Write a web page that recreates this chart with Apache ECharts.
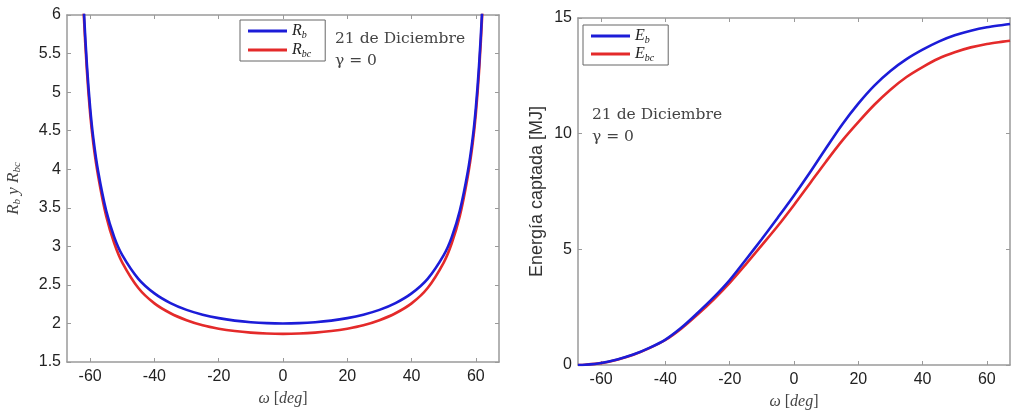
<!DOCTYPE html>
<html>
<head>
<meta charset="utf-8">
<script src="https://cdn.jsdelivr.net/npm/echarts@6/dist/echarts.min.js"></script>
<style>
html,body{margin:0;padding:0;background:#fff;}
#chart{width:1011px;height:416px;}
</style>
</head>
<body>
<div id="chart"></div>
<script>
// ---- data ----
const xTicks = [-60, -40, -20, 0, 20, 40, 60];
const omegaR = [-62.6,-62,-61,-60,-59,-57.5,-55,-52.5,-50,-45,-40,-35,-30,-25,-20,-15,-10,-5,0,5,10,15,20,25,30,35,40,45,50,52.5,55,57.5,59,60,61,62,62.6];
const rb  = [6.8,6.1,5.35,4.80,4.40,3.97,3.46,3.12,2.886,2.579,2.39,2.264,2.176,2.114,2.069,2.037,2.016,2.004,2.0,2.004,2.016,2.037,2.069,2.114,2.176,2.264,2.39,2.579,2.886,3.12,3.46,3.97,4.40,4.80,5.35,6.1,6.8];
const rbc = [6.7,6.02,5.27,4.72,4.33,3.91,3.39,3.04,2.79,2.46,2.26,2.132,2.042,1.976,1.932,1.901,1.881,1.869,1.865,1.869,1.881,1.901,1.932,1.976,2.042,2.132,2.26,2.46,2.79,3.04,3.39,3.91,4.33,4.72,5.27,6.02,6.7];
const omegaE = [-67.2,-65,-60,-55,-50,-45,-40,-35,-30,-25,-20,-15,-10,-5,0,5,10,15,20,25,30,35,40,45,50,55,60,65,67.2];
const eb  = [0,0.01,0.09,0.24,0.45,0.74,1.10,1.62,2.25,2.92,3.67,4.55,5.45,6.38,7.33,8.33,9.38,10.4,11.3,12.08,12.71,13.22,13.63,13.98,14.25,14.45,14.6,14.7,14.74];
const ebc = [0,0.01,0.08,0.23,0.44,0.73,1.08,1.58,2.18,2.83,3.55,4.35,5.18,6.02,6.92,7.86,8.8,9.7,10.5,11.25,11.9,12.45,12.88,13.25,13.52,13.73,13.88,13.98,14.02];

const BLUE = '#1c1cd8';
const RED = '#e42a2a';
const AXC = '#9a9a9a';
const SANS = 'Liberation Sans';
const SERIF = 'Liberation Serif';

const pairs = (xs, ys) => xs.map((x, i) => [x, ys[i]]);

function xAx(grid, pos, showLabel, name) {
  return {
    type: 'value', gridIndex: grid, position: pos, min: -67.2, max: 67.2,
    axisLine: { show: true, onZero: false, lineStyle: { color: AXC, width: 1.5 } },
    axisTick: { show: true, inside: true, length: 4, customValues: xTicks, lineStyle: { color: AXC } },
    axisLabel: { show: showLabel, customValues: xTicks, color: '#222', fontFamily: SANS, fontSize: 16, margin: 7 },
    splitLine: { show: false },
    name: name || '', nameLocation: 'middle', nameGap: 29,
    nameTextStyle: {
      color: '#444', fontFamily: SERIF, fontSize: 16,
      rich: { i: { fontFamily: SERIF, fontStyle: 'italic', fontSize: 16, color: '#444' } }
    }
  };
}
function yAx(grid, pos, showLabel, min, max, interval, name, nameGap, nameStyle) {
  return {
    type: 'value', gridIndex: grid, position: pos, min: min, max: max, interval: interval,
    axisLine: { show: true, onZero: false, lineStyle: { color: AXC, width: 1.5 } },
    axisTick: { show: true, inside: true, length: 4, lineStyle: { color: AXC } },
    axisLabel: { show: showLabel, color: '#222', fontFamily: SANS, fontSize: 16, margin: 6 },
    splitLine: { show: false },
    name: name || '', nameLocation: 'middle', nameGap: nameGap || 30,
    nameTextStyle: nameStyle || {}
  };
}

const legendRich = {
  i: { fontFamily: SERIF, fontStyle: 'italic', fontSize: 16, color: '#222' },
  s: { fontFamily: SERIF, fontStyle: 'italic', fontSize: 10, color: '#222', verticalAlign: 'bottom', padding: [8, 0, 0, 0] }
};
const legendNames = { Rb: '{i|R}{s|b}', Rbc: '{i|R}{s|bc}', Eb: '{i|E}{s|b}', Ebc: '{i|E}{s|bc}' };

const chart = echarts.init(document.getElementById('chart'), null, { renderer: 'canvas' });
chart.setOption({
  animation: false,
  backgroundColor: '#fff',
  grid: [
    { left: 67, top: 15, width: 432, height: 347 },
    { left: 578, top: 18, width: 432, height: 347 }
  ],
  xAxis: [
    xAx(0, 'bottom', true, '{i|ω} [{i|deg}]'),
    xAx(0, 'top', false),
    xAx(1, 'bottom', true, '{i|ω} [{i|deg}]'),
    xAx(1, 'top', false)
  ],
  yAxis: [
    yAx(0, 'left', true, 1.5, 6, 0.5, '{i|R}{s|b} {i|y} {i|R}{s|bc}', 44, {
      color: '#444',
      rich: {
        i: { fontFamily: SERIF, fontStyle: 'italic', fontSize: 17, color: '#444' },
        s: { fontFamily: SERIF, fontStyle: 'italic', fontSize: 11, color: '#444', verticalAlign: 'bottom', padding: [8, 0, 0, 0] },
      },
      fontFamily: SERIF, fontStyle: 'italic', fontSize: 17
    }),
    yAx(0, 'right', false, 1.5, 6, 0.5),
    yAx(1, 'left', true, 0, 15, 5, 'Energía captada [MJ]', 32, { color: '#333', fontFamily: SANS, fontSize: 18 }),
    yAx(1, 'right', false, 0, 15, 5)
  ],
  legend: [
    {
      data: ['Rb', 'Rbc'], orient: 'vertical', left: 240, top: 20,
      backgroundColor: '#fff', borderColor: '#666', borderWidth: 1, borderRadius: 0,
      padding: [3, 14, 2, 8], itemGap: 2, itemWidth: 39, itemHeight: 3, icon: 'rect',
      formatter: n => legendNames[n], textStyle: { rich: legendRich }
    },
    {
      data: ['Eb', 'Ebc'], orient: 'vertical', left: 583, top: 25,
      backgroundColor: '#fff', borderColor: '#666', borderWidth: 1, borderRadius: 0,
      padding: [3, 14, 2, 8], itemGap: 1, itemWidth: 39, itemHeight: 3, icon: 'rect',
      formatter: n => legendNames[n], textStyle: { rich: legendRich }
    }
  ],
  graphic: [
    { type: 'text', left: 335, top: 31, style: { text: '21 de Diciembre', fill: '#444', font: '15.5px "DejaVu Serif"' } },
    { type: 'text', left: 335, top: 53, style: { text: 'γ = 0', fill: '#444', font: '15.5px "DejaVu Serif"' } },
    { type: 'text', left: 592, top: 107, style: { text: '21 de Diciembre', fill: '#444', font: '15.5px "DejaVu Serif"' } },
    { type: 'text', left: 592, top: 129, style: { text: 'γ = 0', fill: '#444', font: '15.5px "DejaVu Serif"' } }
  ],
  series: [
    { name: 'Rb', type: 'line', xAxisIndex: 0, yAxisIndex: 0, data: pairs(omegaR, rb), symbol: 'none', smooth: 0.3, clip: true, lineStyle: { color: BLUE, width: 2.6 }, itemStyle: { color: BLUE }, z: 3 },
    { name: 'Rbc', type: 'line', xAxisIndex: 0, yAxisIndex: 0, data: pairs(omegaR, rbc), symbol: 'none', smooth: 0.3, clip: true, lineStyle: { color: RED, width: 2.6 }, itemStyle: { color: RED }, z: 2 },
    { name: 'Eb', type: 'line', xAxisIndex: 2, yAxisIndex: 2, data: pairs(omegaE, eb), symbol: 'none', smooth: 0.3, clip: true, lineStyle: { color: BLUE, width: 2.6 }, itemStyle: { color: BLUE }, z: 3 },
    { name: 'Ebc', type: 'line', xAxisIndex: 2, yAxisIndex: 2, data: pairs(omegaE, ebc), symbol: 'none', smooth: 0.3, clip: true, lineStyle: { color: RED, width: 2.6 }, itemStyle: { color: RED }, z: 2 }
  ]
});
</script>
</body>
</html>
